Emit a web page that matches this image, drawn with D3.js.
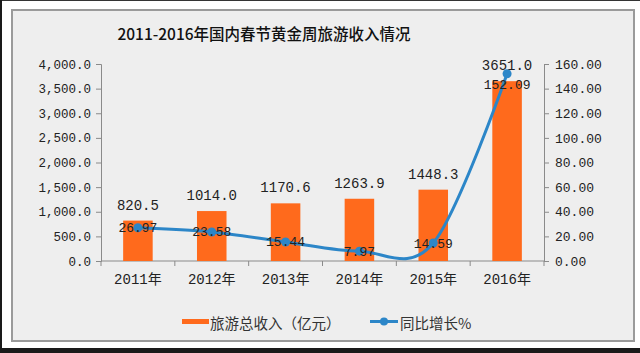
<!DOCTYPE html>
<html><head><meta charset="utf-8">
<script src="https://cdn.jsdelivr.net/npm/d3@7/dist/d3.min.js"></script>
<style>body{margin:0;background:#fff}svg{display:block}</style>
</head><body>
<svg id="c" width="640" height="353"></svg>
<script>
const years = ["2011年","2012年","2013年","2014年","2015年","2016年"];
const revenue = [820.5, 1014.0, 1170.6, 1263.9, 1448.3, 3651.0];
const growth = [26.97, 23.58, 15.44, 7.97, 14.59, 152.09];
const leftTicks = [0,500,1000,1500,2000,2500,3000,3500,4000];
const rightTicks = [0,20,40,60,80,100,120,140,160];
const title = "2011-2016年国内春节黄金周旅游收入情况";
const legendNames = ["旅游总收入（亿元）","同比增长%"];

const svg = d3.select("#c");
const numFont = "'Liberation Mono', 'Noto Sans CJK SC', monospace";
const cjkFont = "'Noto Sans CJK SC', sans-serif";
const orange = "#FF6A1C", blue = "#2C86C8";

// outer frame
svg.append("rect").attr("x",0).attr("y",0).attr("width",640).attr("height",353).attr("fill","#fff");
svg.append("rect").attr("x",0).attr("y",348).attr("width",640).attr("height",5).attr("fill","#1a1a1a");
svg.append("rect").attr("x",0).attr("y",0).attr("width",640).attr("height",1).attr("fill","#333");
svg.append("rect").attr("x",0).attr("y",0).attr("width",2).attr("height",353).attr("fill","#1a1a1a");
svg.append("rect").attr("x",12).attr("y",10).attr("width",622).attr("height",331)
  .attr("fill","#eeeeee").attr("stroke","#9a9a9a").attr("stroke-width",2);

const m = {l:101, r:544, t:64, b:261};
const x = d3.scaleBand().domain(years).range([m.l, m.r]).padding(0);
const yL = d3.scaleLinear().domain([0,4000]).range([m.b, m.t]);
const yR = d3.scaleLinear().domain([0,160]).range([m.b, m.t]);

// title
svg.append("text").attr("x",264).attr("y",33).attr("text-anchor","middle")
  .attr("dominant-baseline","central").attr("font-family",cjkFont).attr("font-size",15.5)
  .attr("font-weight",500).attr("fill","#111").text(title);

// axes
const axL = svg.append("g").attr("transform",`translate(${m.l},0)`)
  .call(d3.axisLeft(yL).tickValues(leftTicks).tickSize(5).tickPadding(5).tickFormat(d3.format(",.1f")));
const axR = svg.append("g").attr("transform",`translate(${m.r},0)`)
  .call(d3.axisRight(yR).tickValues(rightTicks).tickSize(5).tickPadding(6).tickFormat(d3.format(".2f")));
const axB = svg.append("g").attr("transform",`translate(0,${m.b})`)
  .call(d3.axisBottom(x).tickSize(0).tickPadding(13));
[axL,axR,axB].forEach(a=>{
  a.selectAll("path").attr("stroke","#8a8a8a");
  a.selectAll("line").attr("stroke","#8a8a8a");
  a.selectAll("text").attr("font-family",numFont).attr("fill","#222");
});
axL.selectAll("text").attr("font-size",12.5);
axR.selectAll("text").attr("font-size",13);
axB.selectAll("text").attr("font-size",14);
axB.select("path").attr("d",`M${m.l},0H${m.r}`);
// category boundary ticks
const bounds = years.map(d=>x(d)).concat([x(years[years.length-1])+x.bandwidth()]);
axB.selectAll("line.bt").data(bounds).join("line").attr("class","bt")
  .attr("x1",d=>d).attr("x2",d=>d).attr("y1",0).attr("y2",5).attr("stroke","#8a8a8a");

// bars
const bw = x.bandwidth()*0.4;
svg.append("g").selectAll("rect").data(revenue).join("rect")
  .attr("x",(d,i)=>x(years[i])+x.bandwidth()/2-bw/2)
  .attr("y",d=>yL(d)).attr("width",bw).attr("height",d=>yL(0)-yL(d)).attr("fill",orange);

// bar labels
svg.append("g").selectAll("text").data(revenue).join("text")
  .attr("x",(d,i)=>x(years[i])+x.bandwidth()/2).attr("y",d=>yL(d)-15)
  .attr("text-anchor","middle").attr("dominant-baseline","central")
  .attr("font-family",numFont).attr("font-size",14).attr("fill","#222")
  .text(d=>d.toFixed(1));

// line
const cx = (i)=>x(years[i])+x.bandwidth()/2;
const line = d3.line().x((d,i)=>cx(i)).y(d=>yR(d)).curve(d3.curveCardinal.tension(0));
svg.append("path").datum(growth).attr("d",line).attr("fill","none")
  .attr("stroke",blue).attr("stroke-width",3);
svg.append("g").selectAll("circle").data(growth).join("circle")
  .attr("cx",(d,i)=>cx(i)).attr("cy",d=>yR(d)).attr("r",4.5).attr("fill",blue);

// line labels
svg.append("g").selectAll("text").data(growth).join("text")
  .attr("x",(d,i)=>cx(i)).attr("y",(d,i)=>yR(d)+(i===growth.length-1?12:1))
  .attr("text-anchor","middle").attr("dominant-baseline","central")
  .attr("font-family",numFont).attr("font-size",13).attr("fill","#222")
  .text(d=>d.toFixed(2));

// legend
const lg = svg.append("g");
lg.append("rect").attr("x",182).attr("y",319).attr("width",27).attr("height",5).attr("fill",orange);
lg.append("text").attr("x",210).attr("y",322).attr("dominant-baseline","central")
  .attr("font-family",cjkFont).attr("font-size",14.5).attr("fill","#333").text(legendNames[0]);
lg.append("line").attr("x1",370).attr("x2",398).attr("y1",321.5).attr("y2",321.5)
  .attr("stroke",blue).attr("stroke-width",3);
lg.append("circle").attr("cx",384).attr("cy",321.5).attr("r",4).attr("fill",blue);
lg.append("text").attr("x",400).attr("y",322).attr("dominant-baseline","central")
  .attr("font-family",cjkFont).attr("font-size",14.5).attr("fill","#333").text(legendNames[1]);
</script>
</body></html>
